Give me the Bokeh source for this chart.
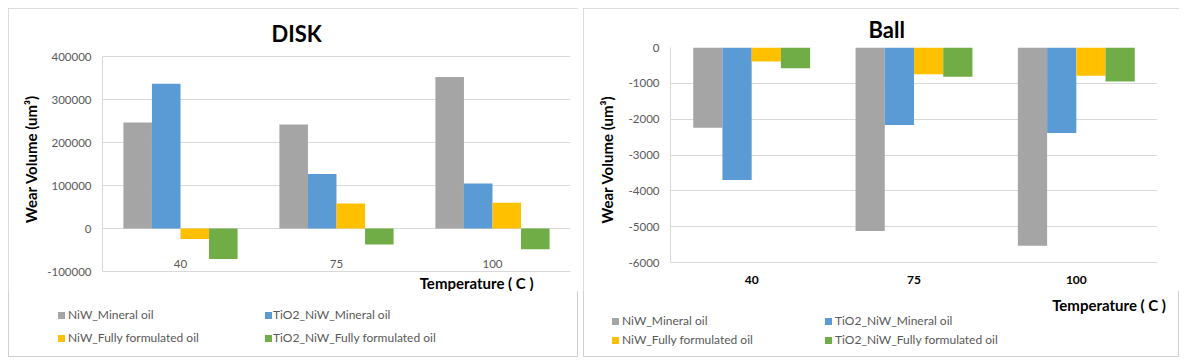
from bokeh.plotting import figure
from bokeh.models import (FactorRange, Range1d, FixedTicker, NumeralTickFormatter,
                          ColumnDataSource, Title, Div)
from bokeh.transform import dodge
from bokeh.layouts import row, column
from bokeh.embed import file_html
from bokeh.resources import INLINE

# ---------------- data ----------------
temps = ["40", "75", "100"]
series_names = ["NiW_Mineral oil", "TiO2_NiW_Mineral oil",
                "NiW_Fully formulated oil", "TiO2_NiW_Fully formulated oil"]
series_colors = ["#A5A5A5", "#5B9BD5", "#FFC000", "#70AD47"]

disk_niw_mineral = [246500, 241900, 352100]
disk_tio2_niw_mineral = [336500, 126500, 104700]
disk_niw_fully = [-24700, 58100, 59800]
disk_tio2_niw_fully = [-71200, -37200, -48000]

ball_niw_mineral = [-2240, -5117, -5535]
ball_tio2_niw_mineral = [-3697, -2164, -2387]
ball_niw_fully = [-390, -744, -790]
ball_tio2_niw_fully = [-577, -818, -947]

disk_ticks = [-100000, 0, 100000, 200000, 300000, 400000]
ball_ticks = [-6000, -5000, -4000, -3000, -2000, -1000, 0]

y_title = "Wear Volume (um\u00b3)"
x_title = "Temperature ( C )"

FONT = "Lato"
GRID = "#D9D9D9"
TXT = "#595959"
CHART_H = 283
FOOT_H = 66


def make_chart(title, values, ticks, yrange, width, mb, cat_bold, cat_standoff,
               title_offset, title_standoff, ylab_standoff, xt_offset, bar_w):
    p = figure(x_range=FactorRange(*temps), y_range=Range1d(*yrange),
               width=width, height=CHART_H, output_backend="svg",
               toolbar_location=None, min_border_left=mb[0], min_border_right=mb[1],
               min_border_top=38, min_border_bottom=20)
    p.outline_line_color = None

    p.title.text = title
    p.title.align = "left"
    p.title.offset = title_offset
    p.title.standoff = title_standoff
    p.title.text_font = FONT
    p.title.text_font_size = "22px"
    p.title.text_font_style = "bold"
    p.title.text_color = "black"

    src = ColumnDataSource(dict(t=temps, s0=values[0], s1=values[1],
                                s2=values[2], s3=values[3]))
    offsets = [-1.5, -0.5, 0.5, 1.5]
    for i in range(4):
        p.vbar(x=dodge("t", offsets[i] * bar_w, range=p.x_range), top=f"s{i}",
               bottom=0, width=bar_w, source=src, fill_color=series_colors[i],
               line_color=None)

    p.yaxis.ticker = FixedTicker(ticks=ticks)
    p.yaxis.bounds = (ticks[0], ticks[-1])
    p.yaxis.formatter = NumeralTickFormatter(format="0")
    p.yaxis.major_tick_line_color = None
    p.yaxis.minor_tick_line_color = None
    p.yaxis.major_tick_out = 0
    p.yaxis.major_label_standoff = 11
    p.yaxis.axis_line_color = GRID
    p.yaxis.major_label_text_font = FONT
    p.yaxis.major_label_text_font_size = "11.5px"
    p.yaxis.major_label_text_color = TXT
    p.yaxis.axis_label = y_title
    p.yaxis.axis_label_text_font = FONT
    p.yaxis.axis_label_text_font_style = "bold"
    p.yaxis.axis_label_text_font_size = "15px"
    p.yaxis.axis_label_text_color = "black"
    p.yaxis.axis_label_standoff = ylab_standoff

    p.xaxis.major_tick_line_color = None
    p.xaxis.major_tick_out = 0
    p.xaxis.axis_line_color = GRID if not cat_bold else None
    p.xaxis.major_label_text_font = FONT
    p.xaxis.major_label_text_font_size = "12px" if cat_bold else "11.5px"
    p.xaxis.major_label_text_font_style = "bold" if cat_bold else "normal"
    p.xaxis.major_label_text_color = "black" if cat_bold else TXT
    p.xaxis.major_label_standoff = cat_standoff

    p.xgrid.grid_line_color = None
    p.ygrid.grid_line_color = GRID
    p.ygrid.grid_line_width = 1

    if xt_offset is not None:
        p.add_layout(Title(text=x_title, align="right", offset=xt_offset, standoff=0,
                           text_font=FONT, text_font_style="bold", text_font_size="15px",
                           text_color="black"), "below")
    return p


def make_footer(width, sq_x, tx_x, row_y, xt=None):
    # legend (two columns x two rows) laid out as positioned HTML
    parts = [f'<div style="position:relative;width:{width}px;height:{FOOT_H}px;'
             f'font-family:Lato;font-size:12px;color:{TXT};">']
    grid = [(0, 0, 0), (1, 0, 1), (2, 1, 0), (3, 1, 1)]  # series, row, col
    for k, r, c in grid:
        parts.append(f'<span style="position:absolute;left:{sq_x[c]}px;top:{row_y[r] - 3.5}px;'
                     f'width:7px;height:7px;background:{series_colors[k]};"></span>')
        parts.append(f'<span style="position:absolute;left:{tx_x[c]}px;top:{row_y[r] - 8}px;'
                     f'line-height:16px;white-space:nowrap;">{series_names[k]}</span>')
    if xt is not None:
        parts.append(f'<span style="position:absolute;right:{width - xt[0]}px;top:{xt[1] - 10}px;'
                     f'line-height:20px;white-space:nowrap;font-weight:bold;font-size:15px;'
                     f'color:black;">{x_title}</span>')
    parts.append('</div>')
    return Div(text="".join(parts), width=width, height=FOOT_H, margin=(0, 0, 0, 0))


# left: page x 8..578, frame 102..570 ; frame y 46..271 (400000 at 56)
p1 = make_chart("DISK",
                [disk_niw_mineral, disk_tio2_niw_mineral, disk_niw_fully, disk_tio2_niw_fully],
                disk_ticks, (-100000, 423256), width=570, mb=(94, 8), cat_bold=False,
                cat_standoff=-12, title_offset=169, title_standoff=0, ylab_standoff=4,
                xt_offset=37, bar_w=0.183)
# footer page y 291..357, page x 8..578
f1 = make_footer(570, sq_x=(50, 257), tx_x=(60, 265), row_y=(24, 47))

# right: page x 583..1179, frame 670..1157 ; frame y 46..271 (-6000 at 262)
p2 = make_chart("Ball",
                [ball_niw_mineral, ball_tio2_niw_mineral, ball_niw_fully, ball_tio2_niw_fully],
                ball_ticks, (-6250, 0), width=596, mb=(87, 22), cat_bold=True,
                cat_standoff=4, title_offset=198, title_standoff=10, ylab_standoff=10,
                xt_offset=None, bar_w=0.18)
# footer page y 291..357, page x 583..1179
f2 = make_footer(596, sq_x=(29, 242), tx_x=(39, 252), row_y=(30, 49), xt=(583, 14))

c1 = column(p1, f1, spacing=0)
c2 = column(p2, f2, spacing=0)
for c in (c1, c2):
    c.styles = {"outline": "1px solid #D0D0D0", "outline-offset": "-1px"}

layout = row(c1, c2, spacing=5)
layout.margin = (8, 0, 0, 8)
open("out.html", "w").write(file_html(layout, INLINE))
